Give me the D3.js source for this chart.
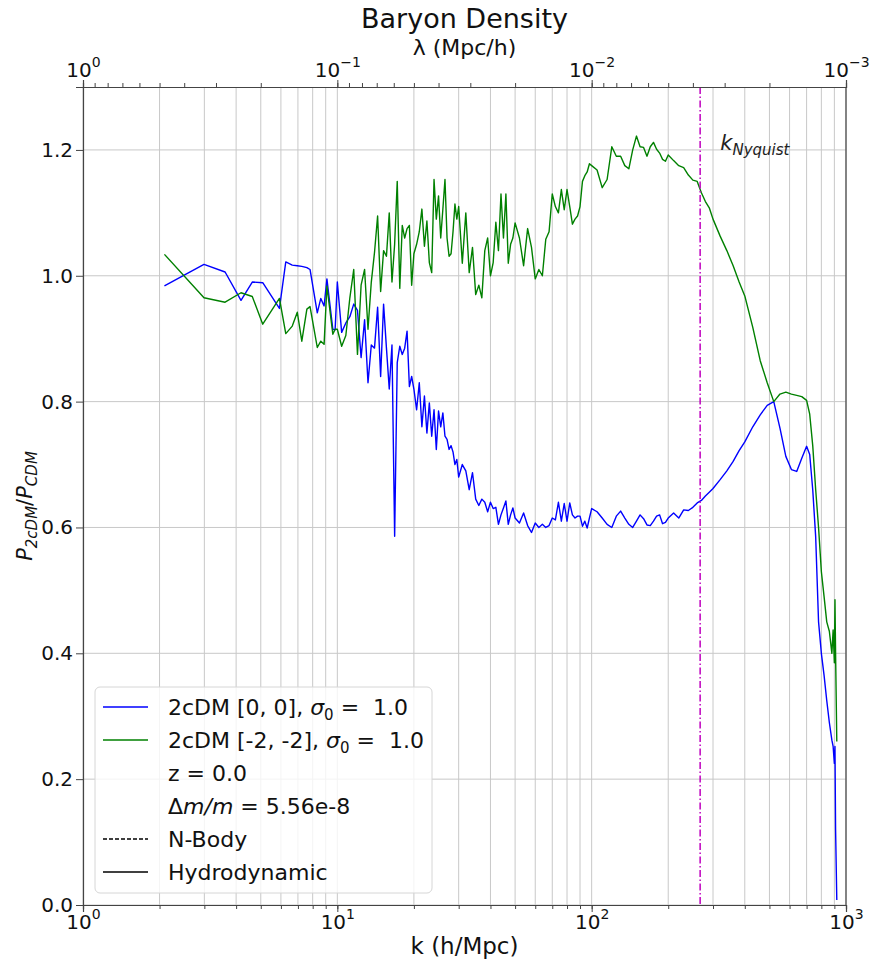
<!DOCTYPE html>
<html>
<head>
<meta charset="utf-8">
<script src="https://cdn.jsdelivr.net/npm/d3@7/dist/d3.min.js"></script>
<style>
  body { margin: 0; background: #fff; }
  svg { display: block; font-family: "DejaVu Sans", sans-serif; }
</style>
</head>
<body>
<div id="chart"></div>
<script>
// ---- data ----
const kBins = [
  2.09, 2.99, 3.62, 4.18, 4.63, 5.09, 5.92, 6.27, 6.65, 6.96, 7.25, 7.59, 7.81, 8.34, 8.61, 8.87, 9.10, 9.60, 9.80,
  10.0, 10.4, 10.8, 11.2, 11.6, 12.0, 12.4, 12.8, 13.2, 13.6, 14.0, 14.4, 14.8, 15.2, 15.6, 16.0, 16.4, 16.8, 17.2, 17.6,
  18.0, 18.4, 18.8, 19.2, 19.6, 20.0, 20.5, 21, 21.5, 22, 22.5, 23, 23.5, 24, 24.5, 25, 25.5, 26, 26.5, 27, 27.5, 28,
  28.5, 29, 29.5, 30,
  31, 32, 33, 34, 35, 36, 37, 38, 39, 40, 41, 42, 43, 44, 45, 46, 47, 48, 49, 50,
  52, 54, 56, 58, 60, 62, 64, 66, 68, 70, 72, 74, 76, 78, 80, 82, 84, 86, 88, 90, 92, 94, 96, 98, 100,
  105, 110, 115, 120, 125, 130, 135, 140, 145, 150, 155, 160, 165, 170, 175, 180, 185, 190, 195, 200,
  210, 220, 230, 240, 250, 260, 270, 280, 290, 300,
  320, 340, 360, 380, 400, 430, 460, 490, 520, 550, 580, 610, 640, 670, 700, 720, 740, 760, 780, 800,
  820, 840, 860, 880, 890, 900, 905, 910, 920
];

// 2cDM [0, 0]
const ratioBlue = [
  0.984, 1.018, 1.006, 0.961, 0.990, 0.989, 0.948, 1.022, 1.017, 1.016, 1.015, 1.013, 1.010, 0.941, 0.964, 0.952, 0.995, 0.915, 0.914,
  0.990, 0.910, 0.925, 0.935, 0.955, 0.945, 0.870, 0.930, 0.830, 0.890, 0.885, 0.950, 0.840, 0.955, 0.885, 0.820, 0.890, 0.586, 0.862, 0.888,
  0.875, 0.885, 0.912, 0.824, 0.840, 0.820, 0.787, 0.830, 0.760, 0.809, 0.750, 0.798, 0.745, 0.787, 0.724, 0.785, 0.760, 0.782, 0.745, 0.740, 0.724, 0.730,
  0.720, 0.700, 0.708, 0.680,
  0.700, 0.690, 0.660, 0.687, 0.645, 0.635, 0.645, 0.640, 0.625, 0.640, 0.630, 0.632, 0.605, 0.620, 0.631, 0.642, 0.605, 0.620, 0.631, 0.615,
  0.607, 0.623, 0.603, 0.592, 0.607, 0.600, 0.605, 0.600, 0.603, 0.615, 0.612, 0.640, 0.610, 0.638, 0.610, 0.639, 0.620, 0.615, 0.618, 0.618, 0.602, 0.610, 0.599, 0.615, 0.630,
  0.625, 0.615, 0.605, 0.600, 0.618, 0.626, 0.615, 0.605, 0.600, 0.610, 0.620, 0.614, 0.604, 0.603, 0.610, 0.618, 0.620, 0.606, 0.608, 0.615,
  0.623, 0.615, 0.628, 0.627, 0.632, 0.639, 0.643, 0.650, 0.656, 0.662,
  0.676, 0.690, 0.705, 0.722, 0.736, 0.760, 0.779, 0.794, 0.800, 0.758, 0.713, 0.692, 0.689, 0.710, 0.729, 0.716, 0.660, 0.585, 0.450, 0.400,
  0.365, 0.325, 0.290, 0.262, 0.252, 0.225, 0.252, 0.120, 0.008
];

// 2cDM [-2, -2]
const ratioGreen = [
  1.034, 0.965, 0.958, 0.973, 0.967, 0.923, 0.964, 0.908, 0.920, 0.942, 0.896, 0.947, 0.951, 0.886, 0.896, 0.891, 0.984, 0.907, 0.915,
  0.915, 0.888, 0.905, 0.965, 1.010, 0.875, 0.985, 1.010, 0.915, 0.990, 1.037, 1.095, 0.975, 1.040, 1.031, 1.100, 0.990, 1.050, 1.150, 0.980,
  1.080, 1.060, 1.075, 1.080, 0.985, 1.035, 1.050, 1.070, 1.106, 1.047, 1.087, 1.021, 1.005, 1.153, 1.090, 1.127, 1.060, 1.106, 1.153, 1.060, 1.031, 1.035,
  1.070, 1.114, 1.090, 1.110,
  1.020, 1.100, 1.005, 1.045, 0.970, 0.985, 0.965, 1.040, 1.060, 1.000, 1.021, 1.085, 1.040, 1.130, 1.060, 1.130, 1.020, 1.050, 1.060, 1.084,
  1.060, 1.016, 1.075, 1.045, 0.995, 1.010, 1.000, 1.058, 1.070, 1.130, 1.110, 1.100, 1.137, 1.105, 1.137, 1.110, 1.082, 1.090, 1.095, 1.110, 1.150, 1.159, 1.165, 1.178, 1.175,
  1.168, 1.140, 1.153, 1.205, 1.190, 1.190, 1.175, 1.170, 1.200, 1.222, 1.205, 1.204, 1.190, 1.205, 1.212, 1.201, 1.195, 1.185, 1.182, 1.192,
  1.183, 1.175, 1.172, 1.160, 1.152, 1.150, 1.132, 1.118, 1.108, 1.090,
  1.063, 1.040, 1.016, 0.990, 0.968, 0.918, 0.865, 0.830, 0.800, 0.812, 0.815, 0.812, 0.810, 0.808, 0.802, 0.780, 0.730, 0.660, 0.600, 0.530,
  0.490, 0.450, 0.435, 0.400, 0.437, 0.385, 0.485, 0.400, 0.260
];

const kNyquist = 267;

const yTicks = [0, 0.2, 0.4, 0.6, 0.8, 1.0, 1.2];
const yTickLabels = ["0.0", "0.2", "0.4", "0.6", "0.8", "1.0", "1.2"];
const kMajorTicks = [1, 10, 100, 1000];
const kTickExponents = ["0", "1", "2", "3"];
const lambdaMajorTicks = [1, 0.1, 0.01, 0.001];
const lambdaTickExponents = ["0", "\u22121", "\u22122", "\u22123"];

const series = [
  { label: "2cDM [0, 0]", color: "#0000ff", values: ratioBlue },
  { label: "2cDM [-2, -2]", color: "#008000", values: ratioGreen }
];

// ---- layout ----
const width = 877, height = 962;
const margin = { top: 87, right: 31, bottom: 57, left: 83 };
const plotW = width - margin.left - margin.right;
const plotH = height - margin.top - margin.bottom;

const svg = d3.select("#chart").append("svg")
  .attr("width", width)
  .attr("height", height);

const x = d3.scaleLog().domain([1, 1000]).range([margin.left, margin.left + plotW]);
const xTop = d3.scaleLog().domain([1, 0.001]).range([margin.left, margin.left + plotW]);
const y = d3.scaleLinear().domain([0, 1.3]).range([margin.top + plotH, margin.top]);

// grid
const grid = svg.append("g").attr("stroke", "#c8c8c8").attr("stroke-width", 1);
grid.selectAll(".vgrid")
  .data(x.ticks())
  .enter().append("line")
  .attr("x1", d => x(d)).attr("x2", d => x(d))
  .attr("y1", margin.top).attr("y2", margin.top + plotH);
grid.selectAll(".hgrid")
  .data(yTicks)
  .enter().append("line")
  .attr("x1", margin.left).attr("x2", margin.left + plotW)
  .attr("y1", d => y(d)).attr("y2", d => y(d));

// clip
svg.append("clipPath").attr("id", "plot-clip")
  .append("rect")
  .attr("x", margin.left).attr("y", margin.top)
  .attr("width", plotW).attr("height", plotH);

const plot = svg.append("g").attr("clip-path", "url(#plot-clip)");

const line = d3.line()
  .x(d => x(d[0]))
  .y(d => y(d[1]));

series.forEach(s => {
  plot.append("path")
    .datum(kBins.map((k, i) => [k, s.values[i]]))
    .attr("fill", "none")
    .attr("stroke", s.color)
    .attr("stroke-width", 1.4)
    .attr("stroke-linejoin", "round")
    .attr("d", line);
});

// Nyquist marker
plot.append("line")
  .attr("x1", x(kNyquist)).attr("x2", x(kNyquist))
  .attr("y1", margin.top).attr("y2", margin.top + plotH)
  .attr("stroke", "#bf00bf")
  .attr("stroke-width", 1.5)
  .attr("stroke-dasharray", "7,2.5,1.5,2.5");

const nyq = svg.append("text")
  .attr("x", x(kNyquist * 1.2))
  .attr("y", y(1.2))
  .attr("font-size", 21)
  .attr("font-style", "italic")
  .attr("fill", "#222");
nyq.append("tspan").text("k");
nyq.append("tspan").attr("font-size", 15).attr("dy", 5).text("Nyquist");

// ---- axes ----
function powerLabels(g, exps) {
  g.selectAll(".tick text").each(function(d, i) {
    const t = d3.select(this);
    t.text(null);
    t.append("tspan").text("10");
    t.append("tspan").attr("font-size", 14).attr("dy", "-0.75em").text(exps[i]);
  });
}

function styleAxis(g) {
  g.attr("font-size", 20).attr("font-family", "DejaVu Sans, sans-serif");
  g.select(".domain").attr("stroke", "#444").attr("stroke-width", 1.2);
  g.selectAll(".tick line").attr("stroke", "#444");
  g.selectAll(".tick text").attr("fill", "#111");
}

// bottom minor + major
svg.append("g")
  .attr("transform", `translate(0,${margin.top + plotH})`)
  .call(d3.axisBottom(x).tickValues(x.ticks()).tickSize(4).tickFormat(""))
  .call(styleAxis);
svg.append("g")
  .attr("transform", `translate(0,${margin.top + plotH})`)
  .call(d3.axisBottom(x).tickValues(kMajorTicks).tickSize(7).tickPadding(3))
  .call(styleAxis)
  .call(g => powerLabels(g, kTickExponents));

// top axis: wavelength
svg.append("g")
  .attr("transform", `translate(0,${margin.top})`)
  .call(d3.axisTop(xTop).tickValues(xTop.ticks()).tickSize(4).tickFormat(""))
  .call(styleAxis);
svg.append("g")
  .attr("transform", `translate(0,${margin.top})`)
  .call(d3.axisTop(xTop).tickValues(lambdaMajorTicks).tickSize(7).tickPadding(3))
  .call(styleAxis)
  .call(g => powerLabels(g, lambdaTickExponents));

// left axis
svg.append("g")
  .attr("transform", `translate(${margin.left},0)`)
  .call(d3.axisLeft(y).tickValues(yTicks).tickSize(7).tickPadding(3)
    .tickFormat((d, i) => yTickLabels[i]))
  .call(styleAxis);

// right spine
svg.append("line")
  .attr("x1", margin.left + plotW).attr("x2", margin.left + plotW)
  .attr("y1", margin.top).attr("y2", margin.top + plotH)
  .attr("stroke", "#444").attr("stroke-width", 1.2);

// ---- titles ----
const cx = margin.left + plotW / 2;
svg.append("text")
  .attr("x", cx).attr("y", 28)
  .attr("text-anchor", "middle")
  .attr("font-size", 27)
  .attr("fill", "#111")
  .text("Baryon Density");

svg.append("text")
  .attr("x", cx).attr("y", 55)
  .attr("text-anchor", "middle")
  .attr("font-size", 22)
  .attr("fill", "#111")
  .text("\u03bb (Mpc/h)");

svg.append("text")
  .attr("x", cx).attr("y", 954)
  .attr("text-anchor", "middle")
  .attr("font-size", 23)
  .attr("fill", "#111")
  .text("k (h/Mpc)");

const yLab = svg.append("text")
  .attr("transform", `translate(32,${margin.top + plotH / 2 + 10}) rotate(-90)`)
  .attr("text-anchor", "middle")
  .attr("font-size", 21)
  .attr("font-style", "italic")
  .attr("fill", "#111");
yLab.append("tspan").text("P");
yLab.append("tspan").attr("font-size", 15).attr("dy", 5).text("2cDM");
yLab.append("tspan").attr("dy", -5).attr("font-style", "normal").text("/");
yLab.append("tspan").text("P");
yLab.append("tspan").attr("font-size", 15).attr("dy", 5).text("CDM");

// ---- legend ----
const legend = svg.append("g");
legend.append("rect")
  .attr("x", 95).attr("y", 687)
  .attr("width", 337).attr("height", 206)
  .attr("rx", 5)
  .attr("fill", "#fff").attr("fill-opacity", 0.8)
  .attr("stroke", "#d6d6d6");

const legendRows = [
  { color: "#0000ff", dash: null, name: "2cDM [0, 0], ", sigma: true },
  { color: "#008000", dash: null, name: "2cDM [-2, -2], ", sigma: true },
  { color: null, name: "z = 0.0" },
  { color: null, name: "dm" },
  { color: "#000", dash: "4,2", name: "N-Body" },
  { color: "#000", dash: null, name: "Hydrodynamic" }
];

legendRows.forEach((r, i) => {
  const cy = 707 + i * 33;
  if (r.color) {
    legend.append("line")
      .attr("x1", 103).attr("x2", 148)
      .attr("y1", cy).attr("y2", cy)
      .attr("stroke", r.color)
      .attr("stroke-width", 1.3)
      .attr("stroke-dasharray", r.dash);
  }
  const t = legend.append("text")
    .attr("x", 168).attr("y", cy)
    .attr("dy", "0.36em")
    .attr("font-size", 22)
    .attr("fill", "#111");
  if (r.sigma) {
    t.append("tspan").text(r.name);
    t.append("tspan").attr("font-style", "italic").text("\u03c3");
    t.append("tspan").attr("font-size", 15).attr("dy", 5).text("0");
    t.append("tspan").attr("dy", -5).text(" =\u00a0 1.0");
  } else if (r.name === "dm") {
    t.append("tspan").text("\u0394");
    t.append("tspan").attr("font-style", "italic").text("m/m");
    t.append("tspan").text(" = 5.56e-8");
  } else {
    t.text(r.name);
  }
});
</script>
</body>
</html>
